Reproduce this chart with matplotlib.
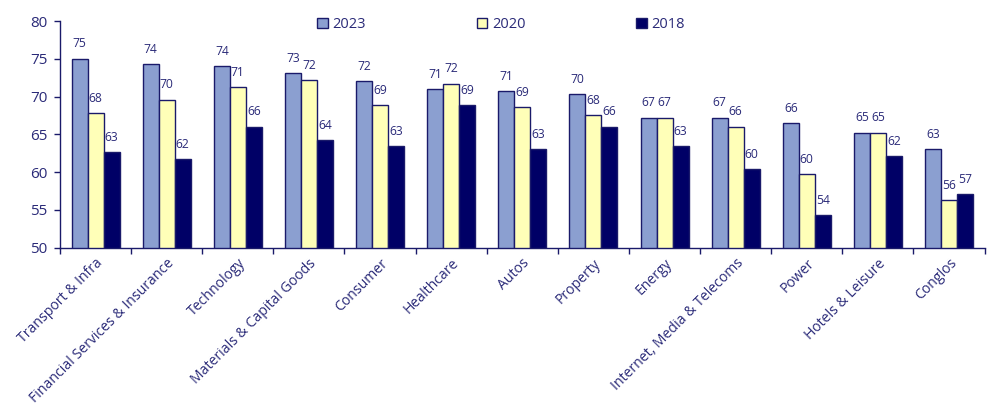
import matplotlib
matplotlib.use("Agg")
import matplotlib.pyplot as plt
from matplotlib.patches import Patch
import numpy as np

categories = ["Transport & Infra", "Financial Services & Insurance", "Technology",
              "Materials & Capital Goods", "Consumer", "Healthcare", "Autos",
              "Property", "Energy", "Internet, Media & Telecoms", "Power",
              "Hotels & Leisure", "Conglos"]
series_names = ["2023", "2020", "2018"]
values_2023 = [75.0, 74.3, 74.0, 73.1, 72.0, 71.0, 70.7, 70.3, 67.2, 67.2, 66.5, 65.2, 63.0]
values_2020 = [67.8, 69.6, 71.2, 72.2, 68.9, 71.7, 68.6, 67.5, 67.2, 66.0, 59.7, 65.2, 56.3]
values_2018 = [62.6, 61.7, 66.0, 64.2, 63.4, 68.9, 63.0, 66.0, 63.4, 60.4, 54.3, 62.1, 57.1]
y_ticks = [50, 55, 60, 65, 70, 75, 80]

plt.rcParams['font.family'] = ['Open Sans', 'DejaVu Sans']
navy_text = "#2a2a78"
edge = "#1a1a6a"
colors = ["#8b9fd0", "#ffffb8", "#000066"]

fig = plt.figure(figsize=(9.92, 4.12), dpi=100)
ax = fig.add_axes([0.0605, 0.399, 0.932, 0.55])

x = np.arange(len(categories))
width = 0.225
all_series = [values_2023, values_2020, values_2018]
for k, (vals, col) in enumerate(zip(all_series, colors)):
    pos = x + (k - 1) * width
    ax.bar(pos, np.array(vals) - 50, width=width, bottom=50, color=col,
           edgecolor=edge, linewidth=1.0, zorder=3)
    for px, v in zip(pos, vals):
        ax.text(px, v + 1.1, f"{v:.0f}", ha="center", va="bottom",
                fontsize=8.7, color=navy_text)

ax.set_ylim(50, 80)
ax.set_xlim(-0.5, len(categories) - 0.5)
ax.set_yticks(y_ticks)
ax.set_yticklabels([str(t) for t in y_ticks], fontsize=11, color=navy_text)

# category boundaries carry the tick marks; labels sit at the centres
ax.set_xticks(np.arange(len(categories) + 1) - 0.5)
ax.set_xticklabels([])
ax.set_xticks(x, minor=True)
ax.set_xticklabels(categories, minor=True, rotation=45, ha="right",
                   rotation_mode="anchor", fontsize=10.1, color=navy_text)
ax.tick_params(axis="x", which="minor", length=0, pad=6)
ax.tick_params(axis="x", which="major", length=4, width=1, color=edge, direction="out")
ax.tick_params(axis="y", length=4, width=1, color=edge, direction="out", pad=5)

for s in ["top", "right"]:
    ax.spines[s].set_visible(False)
for s in ["left", "bottom"]:
    ax.spines[s].set_color(edge)
    ax.spines[s].set_linewidth(1.0)

handles = [Patch(facecolor=c, edgecolor=edge, linewidth=1.0) for c in colors]
fig.legend(handles, series_names, loc="center", bbox_to_anchor=(0.505, 0.94),
           ncol=3, frameon=False, fontsize=10.5, handlelength=0.75, handleheight=0.75,
           handletextpad=0.3, columnspacing=7.6, labelcolor=navy_text)

fig.savefig("out.png", dpi=100)
